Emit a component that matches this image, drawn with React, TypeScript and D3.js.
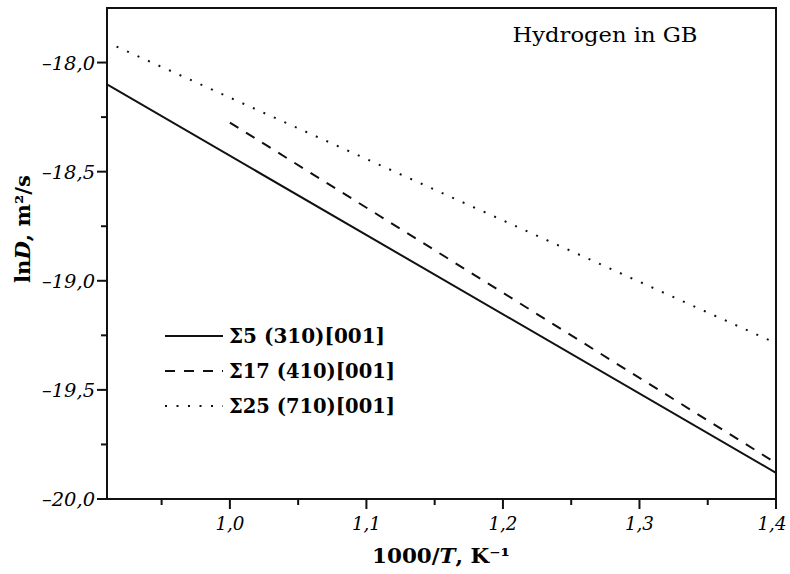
import React from "react";
import * as d3 from "d3";

const xDomain: [number, number] = [0.91, 1.4];
const yDomain: [number, number] = [-20, -17.75];
const xMajorTicks = [1.0, 1.1, 1.2, 1.3, 1.4];
const xMinorTicks = [0.95, 1.05, 1.15, 1.25, 1.35];
const yMajorTicks = [-20, -19.5, -19, -18.5, -18];
const yMinorTicks = [-19.75, -19.25, -18.75, -18.25];

const seriesNames = ["Σ5 (310)[001]", "Σ17 (410)[001]", "Σ25 (710)[001]"];
const sigma5X = [0.91, 1.4];
const sigma5Y = [-18.1, -19.88];
const sigma17X = [1.0, 1.4];
const sigma17Y = [-18.275, -19.835];
const sigma25X = [0.917, 1.4];
const sigma25Y = [-17.927, -19.286];
const dashes = [undefined, "10,9", "2,9.5"];

const W = 790, H = 574;
const L = 107, R = 776, T = 8, B = 499;
const FONT = "'DejaVu Serif', serif";

export default function App() {
  const x = d3.scaleLinear().domain(xDomain).range([L, R]);
  const y = d3.scaleLinear().domain(yDomain).range([B, T]);
  const line = d3.line<[number, number]>().x(d => x(d[0])).y(d => y(d[1]));
  const series = [
    d3.zip(sigma5X, sigma5Y) as [number, number][],
    d3.zip(sigma17X, sigma17Y) as [number, number][],
    d3.zip(sigma25X, sigma25Y) as [number, number][],
  ];
  const fmt = (v: number) => v.toFixed(1).replace(".", ",").replace("-", "\u2013");
  const legendY = [336, 371, 406];
  const legendLen = [156, 166, 166];
  return (
    <svg width={W} height={H} style={{ position: "absolute", left: 0, top: 0, background: "#fff" }} fontFamily={FONT}>
      <rect x={0} y={0} width={W} height={H} fill="#fff" />
      <defs>
        <clipPath id="clip"><rect x={L} y={T} width={R - L} height={B - T} /></clipPath>
      </defs>
      <g clipPath="url(#clip)">
        {series.map((s, i) => (
          <path key={i} d={line(s) || ""} fill="none" stroke="#111" strokeWidth={2}
            strokeDasharray={dashes[i]} />
        ))}
      </g>
      <rect x={L} y={T} width={R - L} height={B - T} fill="none" stroke="#111" strokeWidth={2} />
      {xMajorTicks.map(t => (
        <g key={"xM" + t}>
          <line x1={x(t)} x2={x(t)} y1={B} y2={B + 10} stroke="#111" strokeWidth={2} />
          <text x={Math.min(x(t), W - 18)} y={530} textAnchor="middle" fontStyle="italic" fontSize={19}
            textLength={29} lengthAdjust="spacingAndGlyphs">{fmt(t)}</text>
        </g>
      ))}
      {xMinorTicks.map(t => (
        <line key={"xm" + t} x1={x(t)} x2={x(t)} y1={B} y2={B + 6} stroke="#111" strokeWidth={2} />
      ))}
      {yMajorTicks.map(t => (
        <g key={"yM" + t}>
          <line x1={L - 10} x2={L} y1={y(t)} y2={y(t)} stroke="#111" strokeWidth={2} />
          <text x={L - 12} y={y(t) + 7} textAnchor="end" fontStyle="italic" fontSize={19}
            textLength={53} lengthAdjust="spacingAndGlyphs">{fmt(t)}</text>
        </g>
      ))}
      {yMinorTicks.map(t => (
        <line key={"ym" + t} x1={L - 6} x2={L} y1={y(t)} y2={y(t)} stroke="#111" strokeWidth={2} />
      ))}
      <text x={441} y={563} textAnchor="middle" fontWeight="bold" fontSize={20}
        textLength={138} lengthAdjust="spacingAndGlyphs">
        1000/<tspan fontStyle="italic">T</tspan>, K⁻¹
      </text>
      <text transform={`translate(30,229) rotate(-90)`} textAnchor="middle" fontWeight="bold" fontSize={20}
        textLength={108} lengthAdjust="spacingAndGlyphs">
        ln<tspan fontStyle="italic">D</tspan>, m²/s
      </text>
      <text x={605} y={42} textAnchor="middle" fontSize={20}
        textLength={185} lengthAdjust="spacingAndGlyphs">Hydrogen in GB</text>
      {seriesNames.map((n, i) => (
        <g key={n}>
          <line x1={165} x2={223} y1={legendY[i]} y2={legendY[i]} stroke="#111" strokeWidth={2}
            strokeDasharray={dashes[i]} />
          <text x={229} y={legendY[i] + 7} fontWeight="bold" fontSize={20}
            textLength={legendLen[i]} lengthAdjust="spacingAndGlyphs">{n}</text>
        </g>
      ))}
    </svg>
  );
}
